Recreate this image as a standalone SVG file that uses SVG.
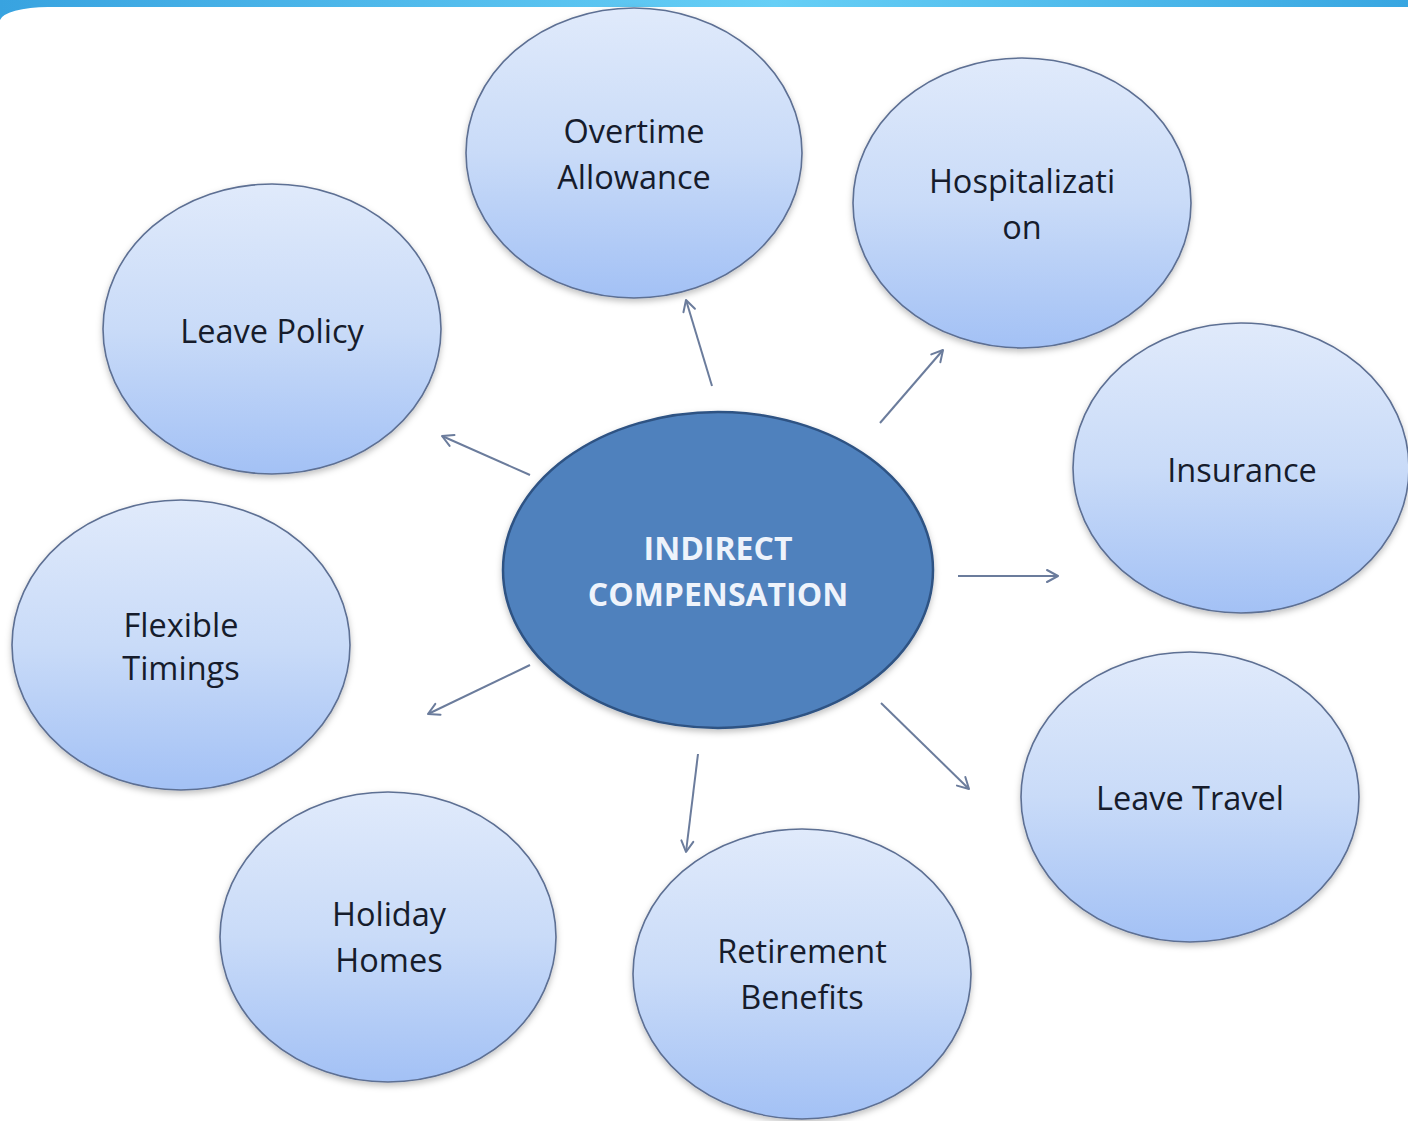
<svg xmlns="http://www.w3.org/2000/svg" width="1408" height="1121" viewBox="0 0 1408 1121">
<defs>
<linearGradient id="bar" x1="0" y1="0" x2="1" y2="0">
<stop offset="0" stop-color="#38a3e0"/>
<stop offset="0.55" stop-color="#66cff6"/>
<stop offset="1" stop-color="#38a6e1"/>
</linearGradient>
<linearGradient id="bub" x1="0" y1="0" x2="0" y2="1">
<stop offset="0" stop-color="#e0eafb"/>
<stop offset="0.5" stop-color="#c9dbf8"/>
<stop offset="1" stop-color="#a3c1f5"/>
</linearGradient>
<filter id="sh" x="-10%" y="-10%" width="120%" height="125%">
<feDropShadow dx="0" dy="3" stdDeviation="3" flood-color="#000" flood-opacity="0.25"/>
</filter>
<marker id="arr" markerWidth="16" markerHeight="16" refX="13" refY="8" orient="auto" markerUnits="userSpaceOnUse">
<path d="M2,2 L13,8 L2,14" fill="none" stroke="#6b7c9c" stroke-width="2" stroke-linecap="round" stroke-linejoin="round"/>
</marker>
</defs>
<style>
.b{fill:url(#bub);stroke:#5d6f93;stroke-width:1.6;filter:url(#sh)}
.c{fill:#4f81bd;stroke:#2e5283;stroke-width:2.5;filter:url(#sh)}
.t{font-family:"Open Sans","Liberation Sans",sans-serif;font-size:32.5px;fill:#161c2c;text-anchor:middle}
.ct{font-family:"Open Sans","Liberation Sans",sans-serif;font-size:32px;font-weight:bold;fill:#eef3fb;text-anchor:middle}
.e{stroke:#6b7c9c;stroke-width:2;fill:none;marker-end:url(#arr)}
</style>
<rect x="0" y="0" width="1408" height="40" fill="url(#bar)"/>
<path d="M0,20 A48,14 0 0 1 48,7 L1408,7 L1408,1121 L0,1121 Z" fill="#ffffff"/>

<g id="connectors">
<line class="e" x1="712" y1="386" x2="686" y2="300"/>
<line class="e" x1="880" y1="423" x2="943" y2="350"/>
<line class="e" x1="530" y1="475" x2="442" y2="436"/>
<line class="e" x1="958" y1="576" x2="1058" y2="576"/>
<line class="e" x1="530" y1="665" x2="428" y2="714"/>
<line class="e" x1="881" y1="703" x2="969" y2="789"/>
<line class="e" x1="698" y1="754" x2="686" y2="852"/>
</g>

<g id="overtime"><ellipse class="b" cx="634" cy="153" rx="168" ry="145"/>
<text class="t" x="634" y="143">Overtime</text><text class="t" x="634" y="189">Allowance</text></g>
<g id="hospitalization"><ellipse class="b" cx="1022" cy="203" rx="169" ry="145"/>
<text class="t" x="1022" y="193">Hospitalizati</text><text class="t" x="1022" y="239">on</text></g>
<g id="leave-policy"><ellipse class="b" cx="272" cy="329" rx="169" ry="145"/>
<text class="t" x="272" y="343">Leave Policy</text></g>
<g id="insurance"><ellipse class="b" cx="1241" cy="468" rx="168" ry="145"/>
<text class="t" x="1242" y="482">Insurance</text></g>
<g id="flexible"><ellipse class="b" cx="181" cy="645" rx="169" ry="145"/>
<text class="t" x="181" y="637">Flexible</text><text class="t" x="181" y="680">Timings</text></g>
<g id="leave-travel"><ellipse class="b" cx="1190" cy="797" rx="169" ry="145"/>
<text class="t" x="1190" y="810">Leave Travel</text></g>
<g id="holiday"><ellipse class="b" cx="388" cy="937" rx="168" ry="145"/>
<text class="t" x="389" y="926">Holiday</text><text class="t" x="389" y="972">Homes</text></g>
<g id="retirement"><ellipse class="b" cx="802" cy="974" rx="169" ry="145"/>
<text class="t" x="802" y="963">Retirement</text><text class="t" x="802" y="1009">Benefits</text></g>
<g id="center"><ellipse class="c" cx="718" cy="570" rx="215" ry="158"/>
<text class="ct" x="718" y="560">INDIRECT</text><text class="ct" x="718" y="606">COMPENSATION</text></g>
</svg>
